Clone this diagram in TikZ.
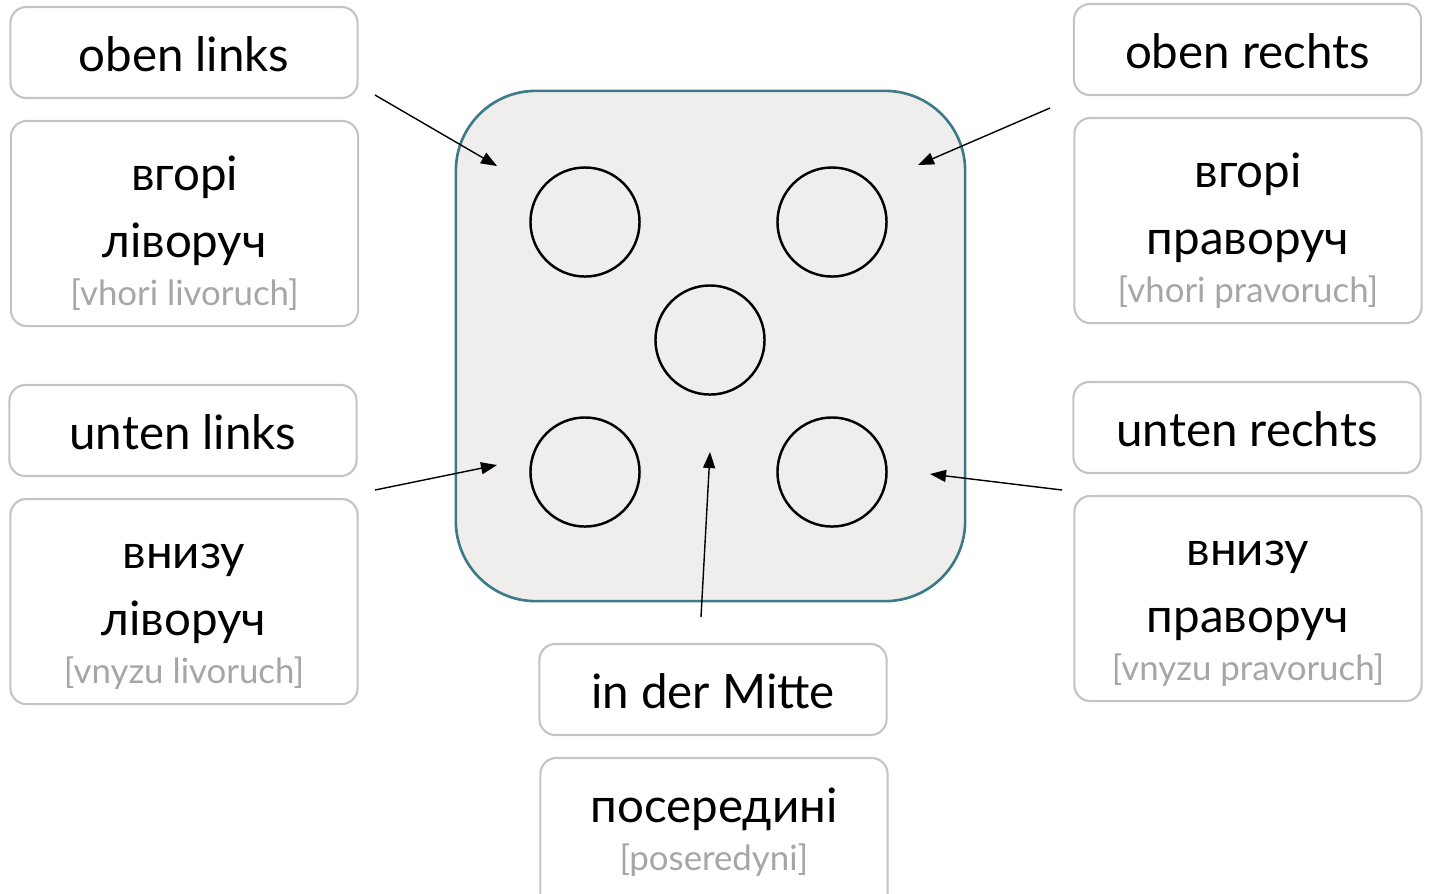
\documentclass[tikz,border=0pt]{standalone}
\usepackage{fontspec}
\setmainfont{Lato}
\usetikzlibrary{arrows.meta}
\definecolor{dieface}{HTML}{EFEEED}
\definecolor{dieedge}{HTML}{3B7A86}
\definecolor{cardedge}{HTML}{C4C4C4}
\definecolor{romgray}{HTML}{A6A6A6}

\begin{document}
\begin{tikzpicture}[x=0.01cm,y=-0.01cm,
	card/.style={draw=cardedge, line width=0.6pt, rounded corners=0.16cm, minimum width=3.47cm, minimum height=0.91cm, inner sep=0pt},
	bigcard/.style={card, minimum height=2.05cm},
	word/.style={font=\fontsize{13.5}{16}\selectfont, inner sep=0pt, anchor=base},
	roman/.style={font=\fontsize{9.9}{12}\selectfont, text=romgray, inner sep=0pt, anchor=base},
	face/.style={fill=dieface, draw=dieedge, line width=0.75pt, rounded corners=0.8cm, minimum width=5.09cm, minimum height=5.1cm, inner sep=0pt},
	pip/.style={draw, line width=0.7pt, circle, minimum size=1.09cm, inner sep=0pt},
	pointer/.style={-{Triangle[length=1.6mm,width=1.2mm]}, line width=0.4pt}]
		\useasboundingbox (0,0) rectangle (1430,893);
		% die
		\node[face] (die) at (710.5,346) {};
		\node[pip] (pipTL) at (585,222) {};
		\node[pip] (pipTR) at (832,222) {};
		\node[pip] (pipC) at (710,340) {};
		\node[pip] (pipBL) at (585,472) {};
		\node[pip] (pipBR) at (832,472) {};
		% left column
		\node[card] (obenlinks) at (184,52.5) {};
		\node[word] (obenlinksT) at (184,71) {oben links};
		\node[bigcard] (vhorilivoruch) at (184.5,223.5) {};
		\node[word] (vhoriA) at (184.5,190) {вгорі};
		\node[word] (vhoriB) at (184.5,257) {ліворуч};
		\node[roman] (vhoriR) at (184.5,305) {[vhori livoruch]};
		\node[card] (untenlinks) at (183,430.5) {};
		\node[word] (untenlinksT) at (183,449) {unten links};
		\node[bigcard] (vnyzulivoruch) at (184,601.5) {};
		\node[word] (vnyzuA) at (184,568) {внизу};
		\node[word] (vnyzuB) at (184,635) {ліворуч};
		\node[roman] (vnyzuR) at (184,683) {[vnyzu livoruch]};
		% right column
		\node[card] (obenrechts) at (1247.5,49.5) {};
		\node[word] (obenrechtsT) at (1247.5,68) {oben rechts};
		\node[bigcard] (vhoripravoruch) at (1248,220.5) {};
		\node[word] (vhoriprA) at (1248,187) {вгорі};
		\node[word] (vhoriprB) at (1248,254) {праворуч};
		\node[roman] (vhoriprR) at (1248,302) {[vhori pravoruch]};
		\node[card] (untenrechts) at (1247,427.5) {};
		\node[word] (untenrechtsT) at (1247,446) {unten rechts};
		\node[bigcard] (vnyzupravoruch) at (1248,598.5) {};
		\node[word] (vnyzuprA) at (1248,565) {внизу};
		\node[word] (vnyzuprB) at (1248,632) {праворуч};
		\node[roman] (vnyzuprR) at (1248,680) {[vnyzu pravoruch]};
		% middle
		\node[card] (mitte) at (713,689.5) {};
		\node[word] (mitteT) at (713,708) {in der Mitte};
		\node[bigcard] (poseredyni) at (714,860.5) {};
		\node[word] (poseredyniA) at (714,822) {посередині};
		\node[roman] (poseredyniR) at (714,870) {[poseredyni]};
		% pointers
		\coordinate (fromTL) at (375,95);
		\coordinate (toTL) at (497,166);
		\coordinate (fromTR) at (1050,108);
		\coordinate (toTR) at (918,165);
		\coordinate (fromBL) at (375,490);
		\coordinate (toBL) at (497,465);
		\coordinate (fromBR) at (1062,490);
		\coordinate (toBR) at (930,474);
		\coordinate (fromC) at (701,617);
		\coordinate (toC) at (710,452);
		\draw[pointer] (fromTL) -- (toTL);
		\draw[pointer] (fromTR) -- (toTR);
		\draw[pointer] (fromBL) -- (toBL);
		\draw[pointer] (fromBR) -- (toBR);
		\draw[pointer] (fromC) -- (toC);
	\end{tikzpicture}
\end{document}
